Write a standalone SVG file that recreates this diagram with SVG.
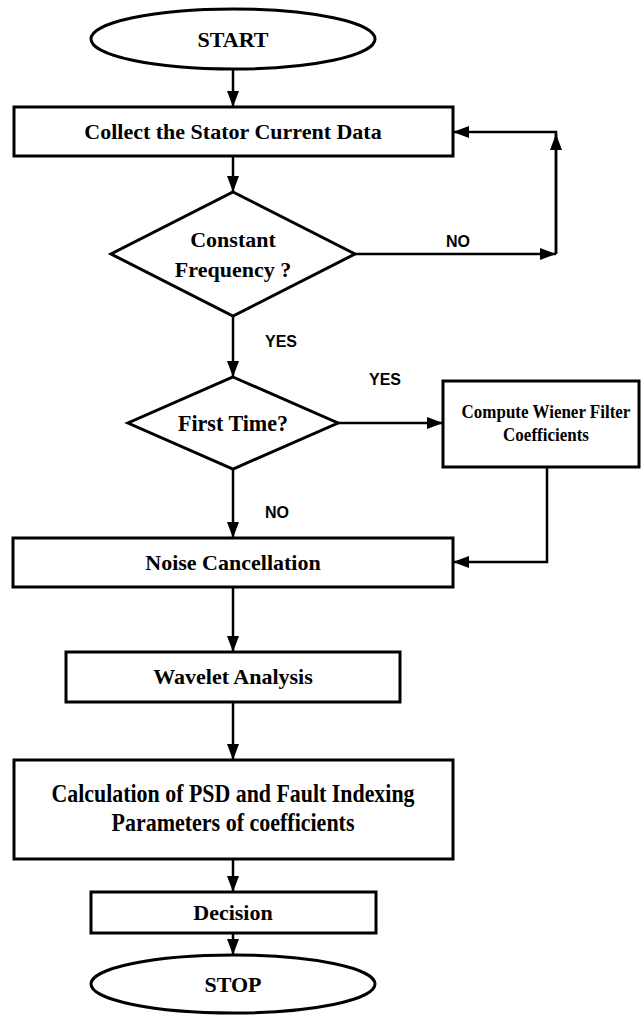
<svg xmlns="http://www.w3.org/2000/svg" width="641" height="1015" viewBox="0 0 641 1015">
<style>
.shape{fill:#fff;stroke:#000;stroke-width:3}
.t{font-family:"Liberation Serif","Times New Roman",serif;font-weight:bold;font-size:22px;fill:#000;text-anchor:middle}
.ts{font-size:17px}
.tl{font-size:25px}
.tf{font-size:24px}
.lbl{font-family:"Liberation Sans",Arial,sans-serif;font-weight:bold;font-size:16px;fill:#000}
.c{fill:none;stroke:#000;stroke-width:2.5}
</style>
<defs>
<marker id="ah" markerUnits="userSpaceOnUse" markerWidth="16" markerHeight="12" refX="16" refY="6" orient="auto">
<path d="M0,0 L16,6 L0,12 z" fill="#000"/>
</marker>
</defs>
<rect width="641" height="1015" fill="#fff"/>
<g id="connectors">
<line class="c" x1="233" y1="69" x2="233" y2="107" marker-end="url(#ah)"/>
<line class="c" x1="233" y1="156" x2="233" y2="192" marker-end="url(#ah)"/>
<line class="c" x1="355" y1="254" x2="556" y2="254" marker-end="url(#ah)"/>
<line class="c" x1="556" y1="254" x2="556" y2="134" marker-end="url(#ah)"/>
<polyline class="c" points="556,254 556,132 453,132" marker-end="url(#ah)"/>
<line class="c" x1="233" y1="316" x2="233" y2="377" marker-end="url(#ah)"/>
<line class="c" x1="338" y1="423" x2="443" y2="423" marker-end="url(#ah)"/>
<line class="c" x1="233" y1="469" x2="233" y2="538" marker-end="url(#ah)"/>
<polyline class="c" points="547,467 547,562 453,562" marker-end="url(#ah)"/>
<line class="c" x1="233" y1="587" x2="233" y2="652" marker-end="url(#ah)"/>
<line class="c" x1="233" y1="702" x2="233" y2="760" marker-end="url(#ah)"/>
<line class="c" x1="233" y1="859" x2="233" y2="892" marker-end="url(#ah)"/>
<line class="c" x1="233" y1="933" x2="233" y2="955" marker-end="url(#ah)"/>
<text class="lbl" x="446" y="247">NO</text>
<text class="lbl" x="265" y="347">YES</text>
<text class="lbl" x="369" y="385">YES</text>
<text class="lbl" x="265" y="518">NO</text>
</g>
<g id="start">
<ellipse class="shape" cx="233" cy="39" rx="142" ry="30"/>
<text class="t" x="233" y="47">START</text>
</g>
<g id="collect">
<rect class="shape" x="14" y="107" width="439" height="49"/>
<text class="t" x="233" y="139">Collect the Stator Current Data</text>
</g>
<g id="constant-frequency">
<polygon class="shape" points="233,192 355,254 233,316 111,254"/>
<text class="t" x="233" y="247">Constant</text>
<text class="t" x="233" y="277">Frequency ?</text>
</g>
<g id="first-time">
<polygon class="shape" points="233,377 338,423 233,469 128,423"/>
<text class="t tf" x="233" y="431" textLength="110" lengthAdjust="spacingAndGlyphs">First Time?</text>
</g>
<g id="wiener">
<rect class="shape" x="443" y="381" width="196" height="86"/>
<text class="t ts" transform="translate(546,418) scale(1,1.15)" x="0" y="0">Compute Wiener Filter</text>
<text class="t ts" transform="translate(546,441) scale(1,1.15)" x="0" y="0">Coefficients</text>
</g>
<g id="noise">
<rect class="shape" x="13" y="538" width="440" height="49"/>
<text class="t" x="233" y="570">Noise Cancellation</text>
</g>
<g id="wavelet">
<rect class="shape" x="66" y="652" width="334" height="50"/>
<text class="t" x="233" y="684">Wavelet Analysis</text>
</g>
<g id="calculation">
<rect class="shape" x="14" y="760" width="439" height="99"/>
<text class="t tl" x="233" y="802" textLength="363" lengthAdjust="spacingAndGlyphs">Calculation of PSD and Fault Indexing</text>
<text class="t tl" x="233" y="831" textLength="243" lengthAdjust="spacingAndGlyphs">Parameters of coefficients</text>
</g>
<g id="decision">
<rect class="shape" x="91" y="892" width="285" height="41"/>
<text class="t" x="233" y="920">Decision</text>
</g>
<g id="stop">
<ellipse class="shape" cx="233" cy="984" rx="142" ry="29"/>
<text class="t" x="233" y="992">STOP</text>
</g>
</svg>
